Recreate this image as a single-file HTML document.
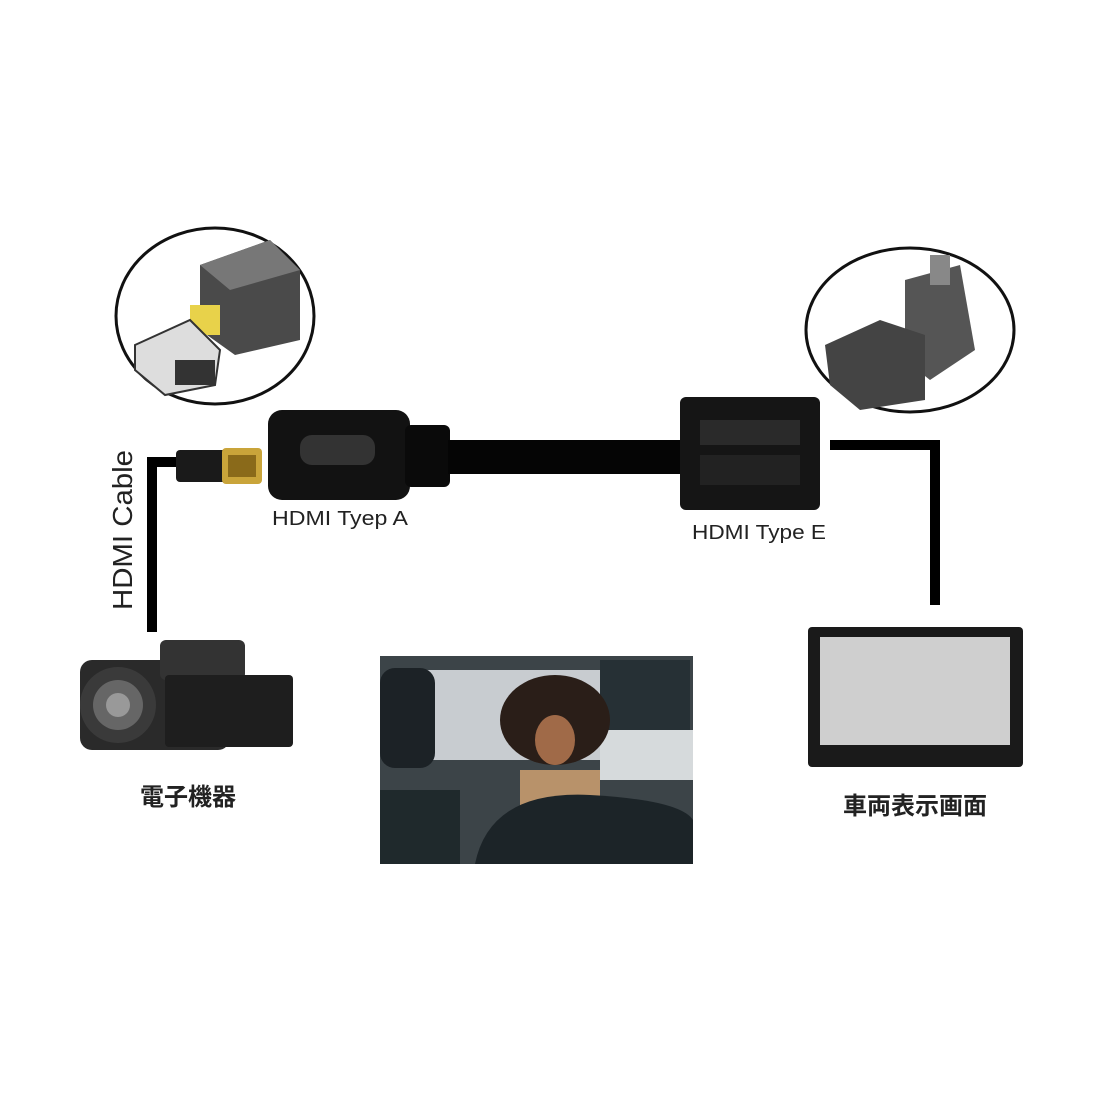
<!DOCTYPE html>
<html><head><meta charset="utf-8"><style>
html,body{margin:0;padding:0;background:#fff;}
svg{display:block}
</style></head><body>
<svg width="1100" height="1100" viewBox="0 0 1100 1100" xmlns="http://www.w3.org/2000/svg">
<rect width="1100" height="1100" fill="#fff"/>
<ellipse cx="215" cy="316" rx="99" ry="88" fill="#fff" stroke="#111" stroke-width="3"/>
<g>
<polygon points="200,265 270,240 300,270 300,340 235,355 200,330" fill="#4a4a4a"/>
<polygon points="200,265 270,240 300,270 230,290" fill="#777"/>
<rect x="190" y="305" width="30" height="30" fill="#e8d24a"/>
<polygon points="135,345 190,320 220,350 215,385 165,395 135,370" fill="#ddd" stroke="#333" stroke-width="2"/>
<rect x="175" y="360" width="40" height="25" fill="#333"/>
</g>
<ellipse cx="910" cy="330" rx="104" ry="82" fill="#fff" stroke="#111" stroke-width="3"/>
<g>
<polygon points="905,280 960,265 975,350 930,380 905,360" fill="#555"/>
<polygon points="825,345 880,320 925,335 925,400 860,410 830,385" fill="#444"/>
<rect x="930" y="255" width="20" height="30" fill="#888"/>
</g>
<polyline points="178,462 152,462 152,632" fill="none" stroke="#000" stroke-width="10"/>
<polyline points="830,445 935,445 935,605" fill="none" stroke="#000" stroke-width="10"/>
<rect x="176" y="450" width="50" height="32" rx="4" fill="#1a1a1a"/>
<rect x="222" y="448" width="40" height="36" rx="4" fill="#c9a43a"/>
<rect x="228" y="455" width="28" height="22" fill="#8a6a1a"/>
<rect x="268" y="410" width="142" height="90" rx="14" fill="#121212"/>
<rect x="300" y="435" width="75" height="30" rx="12" fill="#333"/>
<rect x="405" y="425" width="45" height="62" rx="6" fill="#0a0a0a"/>
<rect x="448" y="440" width="240" height="34" fill="#050505"/>
<rect x="680" y="397" width="140" height="113" rx="6" fill="#151515"/>
<rect x="700" y="420" width="100" height="25" fill="#2a2a2a"/>
<rect x="700" y="455" width="100" height="30" fill="#222"/>
<text x="0" y="0" transform="translate(132,610) rotate(-90)" font-family="Liberation Sans, sans-serif" font-size="28" fill="#222" textLength="160" lengthAdjust="spacingAndGlyphs">HDMI Cable</text>
<text x="272" y="525" font-family="Liberation Sans, sans-serif" font-size="20" fill="#222" textLength="136" lengthAdjust="spacingAndGlyphs">HDMI Tyep A</text>
<text x="692" y="539" font-family="Liberation Sans, sans-serif" font-size="20" fill="#222" textLength="134" lengthAdjust="spacingAndGlyphs">HDMI Type E</text>
<rect x="80" y="660" width="150" height="90" rx="12" fill="#2a2a2a"/>
<rect x="160" y="640" width="85" height="40" rx="6" fill="#333"/>
<circle cx="118" cy="705" r="38" fill="#3a3a3a"/>
<circle cx="118" cy="705" r="25" fill="#666"/>
<circle cx="118" cy="705" r="12" fill="#999"/>
<rect x="165" y="675" width="128" height="72" rx="4" fill="#1e1e1e"/>
<text x="140" y="805" font-family="Liberation Sans, Noto Sans CJK JP, sans-serif" font-size="24" font-weight="bold" fill="#222">電子機器</text>
<rect x="380" y="656" width="313" height="208" fill="#3c4448"/>
<rect x="420" y="670" width="180" height="90" fill="#c8ccd0"/>
<rect x="600" y="660" width="90" height="80" fill="#263035"/>
<rect x="600" y="730" width="93" height="50" fill="#d6dadc"/>
<ellipse cx="555" cy="720" rx="55" ry="45" fill="#2a1e18"/>
<ellipse cx="555" cy="740" rx="20" ry="25" fill="#a06a48"/>
<rect x="520" y="770" width="80" height="40" fill="#b8926a"/>
<rect x="380" y="668" width="55" height="100" rx="15" fill="#1c2226"/>
<path d="M475 864 Q490 790 590 795 Q680 800 693 820 L693 864 Z" fill="#1c2428"/>
<rect x="380" y="790" width="80" height="74" fill="#1f292c"/>
<rect x="808" y="627" width="215" height="140" rx="4" fill="#1a1a1a"/>
<rect x="820" y="637" width="190" height="108" fill="#cfcfcf"/>
<text x="843" y="814" font-family="Liberation Sans, Noto Sans CJK JP, sans-serif" font-size="24" font-weight="bold" fill="#222">車両表示画面</text>
</svg>
</body></html>
